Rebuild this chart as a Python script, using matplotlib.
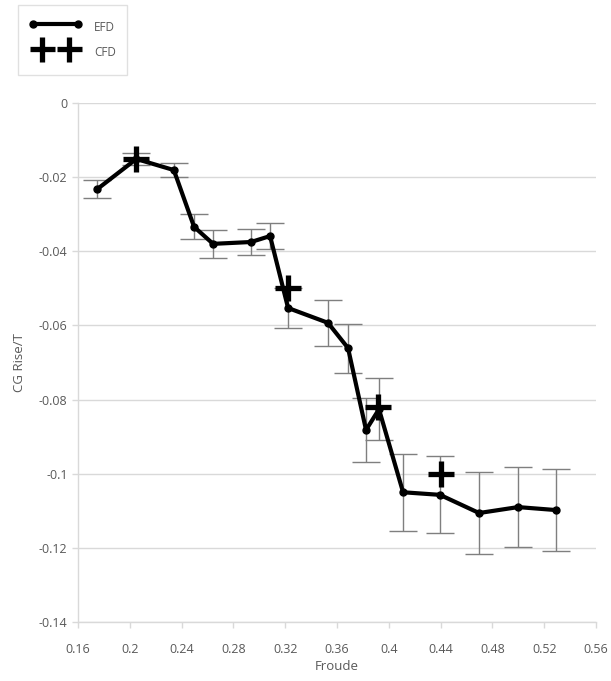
import matplotlib
matplotlib.use("Agg")
import matplotlib.pyplot as plt
from matplotlib.lines import Line2D
from matplotlib.legend_handler import HandlerLine2D

# Experimental (EFD) CG rise with uncertainty
efd_fr = [0.175, 0.205, 0.234, 0.2496, 0.2643, 0.2936, 0.3083, 0.3222, 0.353,
          0.3685, 0.3824, 0.3924, 0.411, 0.4395, 0.4697, 0.4998, 0.529]
efd_rise = [-0.0232, -0.0151, -0.0181, -0.0334, -0.038, -0.0375, -0.0359, -0.0553,
            -0.0593, -0.0661, -0.0882, -0.0826, -0.105, -0.1057, -0.1106, -0.109, -0.1098]
efd_err = [0.0023, 0.0015, 0.002, 0.0034, 0.0038, 0.0035, 0.0035, 0.0054, 0.0062,
           0.0066, 0.0086, 0.0084, 0.0104, 0.0104, 0.011, 0.0108, 0.011]

# Simulation (CFD) results
cfd_fr = [0.205, 0.322, 0.392, 0.44]
cfd_rise = [-0.015, -0.05, -0.082, -0.1]

x_ticks = [0.16, 0.2, 0.24, 0.28, 0.32, 0.36, 0.4, 0.44, 0.48, 0.52, 0.56]
x_labels = ["0.16", "0.2", "0.24", "0.28", "0.32", "0.36", "0.4", "0.44", "0.48", "0.52", "0.56"]
y_ticks = [0, -0.02, -0.04, -0.06, -0.08, -0.1, -0.12, -0.14]
y_labels = ["0", "-0.02", "-0.04", "-0.06", "-0.08", "-0.1", "-0.12", "-0.14"]

plt.rcParams["font.family"] = ["Open Sans", "DejaVu Sans"]
txt = "#595959"
grid = "#d9d9d9"

fig = plt.figure(figsize=(6.11, 6.81), dpi=100)
ax = fig.add_axes([0.1277, 0.0866, 0.8478, 0.7622])

ax.errorbar(efd_fr, efd_rise, yerr=efd_err, fmt="none", ecolor="#7f7f7f",
            elinewidth=1.0, capsize=10, capthick=1.0, zorder=2)
ax.plot(efd_fr, efd_rise, color="black", lw=3, marker="o", ms=5, zorder=3)
ax.plot(cfd_fr, cfd_rise, linestyle="none", marker="+", ms=19, mew=3.8,
        color="black", zorder=4)

ax.set_xlim(0.16, 0.56)
ax.set_ylim(-0.14, 0)
ax.set_xticks(x_ticks)
ax.set_xticklabels(x_labels)
ax.set_yticks(y_ticks)
ax.set_yticklabels(y_labels)
ax.yaxis.grid(True, color=grid, lw=1)
ax.set_axisbelow(True)
for s in ["top", "right"]:
    ax.spines[s].set_visible(False)
for s in ["left", "bottom"]:
    ax.spines[s].set_color(grid)
    ax.spines[s].set_linewidth(1)
ax.tick_params(axis="both", colors=grid, labelcolor=txt, labelsize=9,
               length=4, width=1)
ax.tick_params(axis="x", pad=11)
ax.set_xlabel("Froude", color=txt, fontsize=9.5, labelpad=3)
ax.set_ylabel("CG Rise/T", color=txt, fontsize=9.5, labelpad=9)

efd_handle = Line2D([], [], color="black", lw=3, marker="o", ms=5)
cfd_handle = Line2D([], [], color="black", linestyle="none", marker="+",
                    ms=18, mew=3.8)
leg = fig.legend([efd_handle, cfd_handle], ["EFD", "CFD"], loc="upper left",
                 bbox_to_anchor=(0.0295, 0.9927), borderaxespad=0,
                 numpoints=2, frameon=True, fancybox=False, edgecolor=grid,
                 fontsize=8.5, labelcolor=txt,
                 handlelength=4.4, handleheight=2.5, handletextpad=1.1,
                 borderpad=0.95, labelspacing=0.25,
                 handler_map={cfd_handle: HandlerLine2D(marker_pad=1.05)})
leg.get_frame().set_linewidth(1)

fig.savefig("out.png", dpi=100, facecolor="white")
